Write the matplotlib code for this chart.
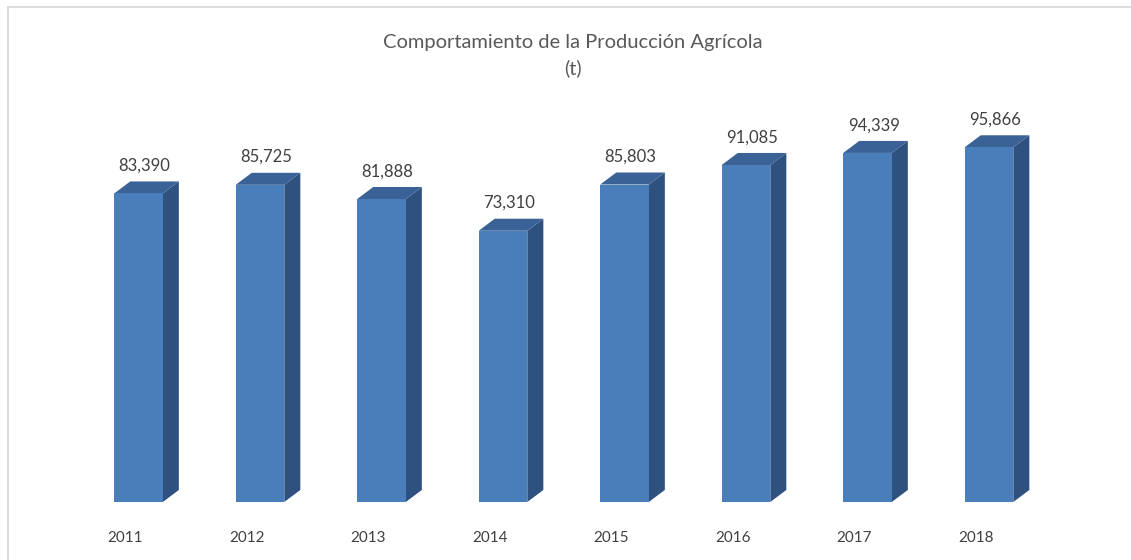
import matplotlib
matplotlib.use("Agg")
import matplotlib.pyplot as plt
from matplotlib.patches import Polygon
from matplotlib.lines import Line2D

years = ["2011", "2012", "2013", "2014", "2015", "2016", "2017", "2018"]
values = [83390, 85725, 81888, 73310, 85803, 91085, 94339, 95866]

plt.rcParams['font.family'] = ['Lato', 'DejaVu Sans']

W, H = 1131, 560
fig = plt.figure(figsize=(W / 100, H / 100), dpi=100)
fig.patch.set_facecolor("white")

ax = fig.add_axes([17 / W, 58 / H, 1093.5 / W, 370 / H])
ax.set_xlim(-1, 8)
ax.set_ylim(0, 100000)
for s in ax.spines.values():
    s.set_visible(False)
ax.set_yticks([])

front_c = "#4A7EBB"
top_c = "#3B6296"
side_c = "#2F5180"

bw = 0.40
dx = 0.132
dy = 3250

xs = list(range(len(values)))
ax.bar(xs, values, width=bw, color=front_c, zorder=3)
for x, v in zip(xs, values):
    r = x + bw / 2
    l = x - bw / 2
    side = Polygon([(r, 0), (r + dx, dy), (r + dx, v + dy), (r, v)],
                   closed=True, facecolor=side_c, edgecolor="none", zorder=2)
    top = Polygon([(l, v), (r, v), (r + dx, v + dy), (l + dx, v + dy)],
                  closed=True, facecolor=top_c, edgecolor="none", zorder=2)
    ax.add_patch(side)
    ax.add_patch(top)
    ax.annotate(f"{v:,}", xy=(x + 0.05, v), xytext=(0, 20),
                textcoords="offset points", ha="center", va="center",
                fontsize=12, color="#404040")

ax.set_xticks([x - 0.11 for x in xs])
ax.set_xticklabels(years, fontsize=11, color="#404040")
ax.tick_params(axis="x", length=0, pad=21)

fig.text(573 / W, 1 - 56 / H, "Comportamiento de la Producción Agrícola\n(t)",
         ha="center", va="center", fontsize=14.5, color="#595959", linespacing=1.55)

bc = "#D9D9D9"
fig.add_artist(Line2D([7.5 / W, 7.5 / W], [0, 1 - 6.5 / H], color=bc, lw=1.3))
fig.add_artist(Line2D([7.5 / W, 1], [1 - 6.5 / H, 1 - 6.5 / H], color=bc, lw=1.3))

fig.savefig("out.png", dpi=100)
